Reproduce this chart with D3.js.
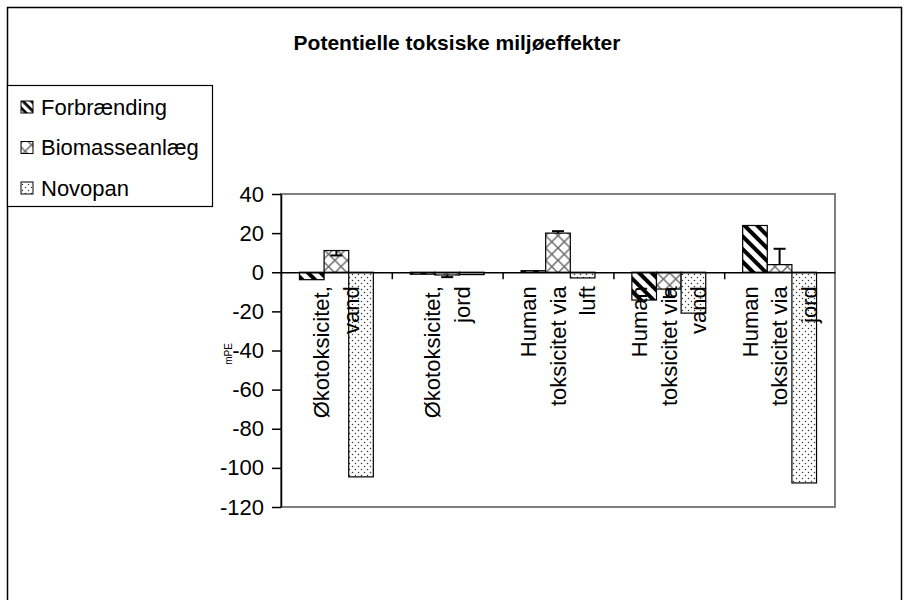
<!DOCTYPE html>
<html>
<head>
<meta charset="utf-8">
<script src="https://cdn.jsdelivr.net/npm/d3@7"></script>
<style>
  body { margin: 0; background: #fff; }
  svg { font-family: "Liberation Sans", Arial, sans-serif; }
  .axis text { font-size: 22px; fill: #000; }
  .axis path, .axis line { stroke: #000; stroke-width: 1.5; }
</style>
</head>
<body>
<svg width="905" height="600"></svg>
<script>
//data
var categories = [
    ["Økotoksicitet,", "vand"],
    ["Økotoksicitet,", "jord"],
    ["Human", "toksicitet via", "luft"],
    ["Human", "toksicitet via", "vand"],
    ["Human", "toksicitet via", "jord"]
];
var seriesNames = ["Forbrænding", "Biomasseanlæg", "Novopan"];
var forbraending = [-3.8, -1.0, 0.8, -14.2, 23.9];
var biomasse = [11.1, -1.4, 20.0, -8.6, 3.9];
var novopan = [-104.6, -1.2, -2.9, -20.9, -107.7];
//signed error bar lengths on the biomass series
var biomasseErr = [-2.5, -1.1, 1.0, -4.1, 8.1];
var yTicks = [40, 20, 0, -20, -40, -60, -80, -100, -120];

var series = [forbraending, biomasse, novopan];
var fills = ["url(#stripes)", "url(#cross)", "url(#dots)"];
var legendFills = ["url(#stripesS)", "url(#crossS)", "url(#dotsS)"];

var svg = d3.select("svg");

//patterns
var defs = svg.append("defs");
function stripes(id, size) {
    var p = defs.append("pattern").attr("id", id)
        .attr("patternUnits", "userSpaceOnUse")
        .attr("width", size).attr("height", size)
        .attr("patternTransform", "rotate(45)");
    p.append("rect").attr("width", size).attr("height", size).attr("fill", "#fff");
    p.append("rect").attr("width", size).attr("height", size * 0.45).attr("fill", "#000");
}
function cross(id, size) {
    var p = defs.append("pattern").attr("id", id)
        .attr("patternUnits", "userSpaceOnUse")
        .attr("width", size).attr("height", size);
    p.append("rect").attr("width", size).attr("height", size).attr("fill", "#fff");
    p.append("path")
        .attr("d", "M0,0L" + size + "," + size + "M" + size + ",0L0," + size)
        .attr("stroke", "#666").attr("stroke-width", 1.4);
}
function dots(id, size, r) {
    var p = defs.append("pattern").attr("id", id)
        .attr("patternUnits", "userSpaceOnUse")
        .attr("width", size).attr("height", size);
    p.append("rect").attr("width", size).attr("height", size).attr("fill", "#fff");
    p.append("circle").attr("cx", size * 0.25).attr("cy", size * 0.25).attr("r", r).attr("fill", "#333");
    p.append("circle").attr("cx", size * 0.75).attr("cy", size * 0.75).attr("r", r).attr("fill", "#333");
}
stripes("stripes", 9);
cross("cross", 12.4);
dots("dots", 6, 0.75);
stripes("stripesS", 6);
cross("crossS", 12.6);
dots("dotsS", 6, 0.7);

//chart frame
svg.append("rect")
    .attr("x", 7.5).attr("y", 7.5)
    .attr("width", 894).attr("height", 700)
    .attr("fill", "none").attr("stroke", "#000").attr("stroke-width", 1.5);

//title
svg.append("text")
    .attr("x", 457).attr("y", 50)
    .attr("text-anchor", "middle")
    .style("font-size", "21px").style("font-weight", "bold")
    .text("Potentielle toksiske miljøeffekter");

//scales
var plot = {left: 281, right: 835, top: 194, bottom: 507};
var x = d3.scaleBand()
    .domain(d3.range(categories.length))
    .range([plot.left, plot.right]);
var barW = x.bandwidth() / 4.5;
var xs = d3.scaleBand()
    .domain(d3.range(series.length))
    .range([0, barW * 3]);
var y = d3.scaleLinear()
    .domain([-120, 40])
    .range([plot.bottom, plot.top]);

//plot area border
svg.append("rect")
    .attr("x", plot.left).attr("y", plot.top)
    .attr("width", plot.right - plot.left).attr("height", plot.bottom - plot.top)
    .attr("fill", "none").attr("stroke", "#808080").attr("stroke-width", 2);

//bars
var offset = (x.bandwidth() - barW * 3) / 2;
series.forEach(function (values, s) {
    svg.append("g").selectAll("rect")
        .data(values)
        .enter().append("rect")
        .attr("x", (d, i) => x(i) + offset + xs(s))
        .attr("y", d => y(Math.max(0, d)))
        .attr("width", xs.bandwidth())
        .attr("height", d => Math.abs(y(d) - y(0)))
        .attr("fill", fills[s])
        .attr("stroke", "#000")
        .attr("stroke-width", 1.2);
});

//error bars
var gErr = svg.append("g").attr("stroke", "#000").attr("stroke-width", 2);
biomasse.forEach(function (v, i) {
    var cx = x(i) + offset + xs(1) + xs.bandwidth() / 2,
        end = v + biomasseErr[i];
    gErr.append("line")
        .attr("x1", cx).attr("x2", cx)
        .attr("y1", y(v)).attr("y2", y(end));
    gErr.append("line")
        .attr("x1", cx - 6).attr("x2", cx + 6)
        .attr("y1", y(end)).attr("y2", y(end));
});

//y axis
svg.append("g")
    .attr("class", "axis")
    .attr("transform", "translate(" + plot.left + ",0)")
    .call(d3.axisLeft(y).tickValues(yTicks).tickFormat(d => String(d))
        .tickSize(9).tickSizeOuter(0).tickPadding(8));

//x axis along zero
var xEdge = d3.scaleLinear()
    .domain([0, categories.length])
    .range([plot.left, plot.right]);
svg.append("g")
    .attr("class", "axis")
    .attr("transform", "translate(0," + y(0) + ")")
    .call(d3.axisBottom(xEdge).tickValues([1, 2, 3, 4]).tickFormat("").tickSize(7).tickSizeOuter(0));

//category labels (rotated, ending just below the zero line)
var lineH = 29.5;
categories.forEach(function (lines, i) {
    var g = svg.append("g")
        .attr("transform", "translate(" + (x(i) + x.bandwidth() / 2) + "," + (y(0) + 14) + ") rotate(-90)");
    lines.forEach(function (line, j) {
        g.append("text")
            .attr("x", 0)
            .attr("y", (j - (lines.length - 1) / 2) * lineH)
            .attr("dy", "0.35em")
            .attr("text-anchor", "end")
            .style("font-size", "22px")
            .text(line);
    });
});

//y label
svg.append("text")
    .attr("transform", "translate(232,354) rotate(-90)")
    .attr("text-anchor", "middle")
    .style("font-size", "10px")
    .text("mPE");

//legend
var legend = svg.append("g");
legend.append("rect")
    .attr("x", 7.5).attr("y", 85.5)
    .attr("width", 205).attr("height", 121)
    .attr("fill", "#fff").attr("stroke", "#000").attr("stroke-width", 1.2);
seriesNames.forEach(function (name, i) {
    var cy = 107 + i * 40.5;
    legend.append("rect")
        .attr("x", 21).attr("y", cy - 6)
        .attr("width", 12).attr("height", 12)
        .attr("fill", legendFills[i])
        .attr("stroke", "#000").attr("stroke-width", 1);
    legend.append("text")
        .attr("x", 41).attr("y", cy)
        .attr("dy", "0.35em")
        .style("font-size", "22px")
        .text(name);
});
</script>
</body>
</html>
